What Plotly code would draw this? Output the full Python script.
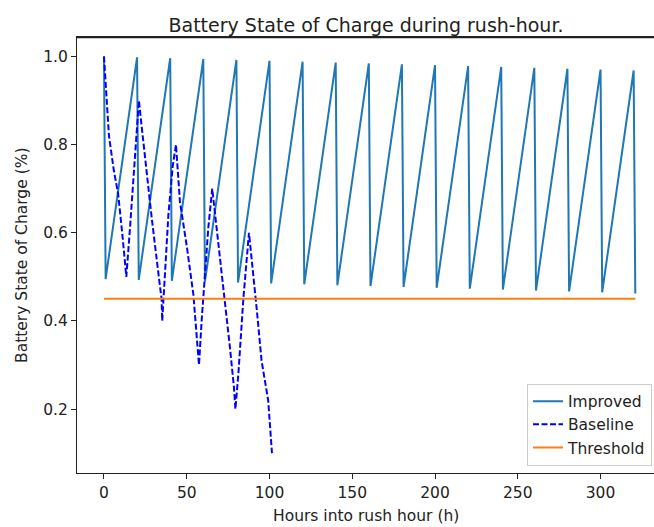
import plotly.graph_objects as go

# Improved strategy: sawtooth (peak then drop one hour later)
improved_hours = [0, 1, 20, 21, 40, 41, 60, 61, 80, 81, 100, 101, 120, 121, 140, 141,
                  160, 161, 180, 181, 200, 201, 220, 221, 240, 241, 260, 261, 280, 281,
                  300, 301, 320, 321]
improved_soc = [1.000, 0.495, 0.998, 0.493, 0.996, 0.491, 0.994, 0.489, 0.992, 0.487,
                0.990, 0.485, 0.988, 0.483, 0.986, 0.481, 0.984, 0.479, 0.982, 0.477,
                0.980, 0.475, 0.978, 0.473, 0.976, 0.471, 0.974, 0.469, 0.972, 0.467,
                0.970, 0.465, 0.968, 0.462]

# Baseline strategy
baseline_hours = [0, 1.5, 3, 6, 8.5, 11, 13.5,
                  15.7, 17.7, 19.7, 21.1,
                  22.8, 25.8, 28.8, 32.8, 34.8, 35.2,
                  37, 38.9, 41.5, 43.5,
                  45.9, 50, 54, 56, 57.4,
                  59, 61, 63, 65.4,
                  68.1, 72.1, 76.1, 78.5, 79.4,
                  81.2, 84.2, 87.6,
                  89.2, 92.2, 95.2, 99.2, 101.5]
baseline_soc = [1.0, 0.90, 0.82, 0.74, 0.69, 0.60, 0.50,
                0.61, 0.72, 0.82, 0.90,
                0.84, 0.73, 0.635, 0.51, 0.45, 0.40,
                0.51, 0.64, 0.75, 0.80,
                0.67, 0.57, 0.46, 0.36, 0.30,
                0.40, 0.51, 0.61, 0.70,
                0.61, 0.48, 0.34, 0.25, 0.20,
                0.28, 0.45, 0.60,
                0.545, 0.43, 0.31, 0.22, 0.10]

# Threshold
threshold_hours = [0, 321]
threshold_soc = [0.45, 0.45]

y_tick_vals = [0.2, 0.4, 0.6, 0.8, 1.0]
x_tick_vals = [0, 50, 100, 150, 200, 250, 300]

FONT = "DejaVu Sans"
TXT = "#222222"

fig = go.Figure()
fig.add_trace(go.Scatter(x=improved_hours, y=improved_soc, mode="lines", name="Improved",
                         line=dict(color="#1f77b4", width=2)))
fig.add_trace(go.Scatter(x=baseline_hours, y=baseline_soc, mode="lines", name="Baseline",
                         line=dict(color="#0000ff", width=2, dash="6px,2.5px")))
fig.add_trace(go.Scatter(x=threshold_hours, y=threshold_soc, mode="lines", name="Threshold",
                         line=dict(color="#ff7f0e", width=2)))

fig.update_layout(
    width=654, height=527,
    margin=dict(l=77, r=0, t=37, b=54),
    paper_bgcolor="white", plot_bgcolor="white",
    font=dict(family=FONT, size=15.5, color=TXT),
    title=dict(text="Battery State of Charge during rush-hour.", x=366 / 654, xanchor="center",
               xref="container", yref="container", y=1 - 32 / 527, yanchor="bottom",
               font=dict(family=FONT, size=19, color=TXT)),
    showlegend=True,
    legend=dict(x=0.9965, y=0.017, xanchor="right", yanchor="bottom",
                bgcolor="rgba(255,255,255,0.8)", bordercolor="#cccccc", borderwidth=1,
                font=dict(family=FONT, size=15.5, color=TXT), itemwidth=30,
                tracegroupgap=0),
    annotations=[
        dict(text="Hours into rush hour (h)", xref="paper", yref="paper",
             x=(366 - 77) / 577, y=(473.3 - 516) / 436, xanchor="center", yanchor="middle",
             showarrow=False, font=dict(family=FONT, size=15.5, color=TXT)),
        dict(text="Battery State of Charge (%)", xref="paper", yref="paper",
             x=(22 - 77) / 577, y=0.5, xanchor="center", yanchor="middle", textangle=-90,
             showarrow=False, font=dict(family=FONT, size=15.5, color=TXT)),
    ],
    shapes=[dict(type="line", xref="paper", yref="paper", x0=0, x1=1, y0=0.999, y1=0.999,
                 line=dict(color=TXT, width=1.5), layer="above")],
)
fig.update_xaxes(range=[-16.3, 332.3], tickvals=x_tick_vals, showgrid=False, zeroline=False,
                 showline=True, linecolor=TXT, linewidth=1, mirror=True,
                 ticks="outside", ticklen=5, tickcolor=TXT, tickfont=dict(size=15.5))
fig.update_yaxes(range=[0.055, 1.044], tickvals=y_tick_vals, tickformat=".1f", showgrid=False,
                 zeroline=False, showline=True, linecolor=TXT, linewidth=1,
                 ticks="outside", ticklen=5, tickcolor=TXT, tickfont=dict(size=15.5))

fig.write_html("out.html", config={"displayModeBar": False},
               post_script="document.body.style.margin='0';document.body.style.padding='0';"
                           "document.documentElement.style.overflow='hidden';")
